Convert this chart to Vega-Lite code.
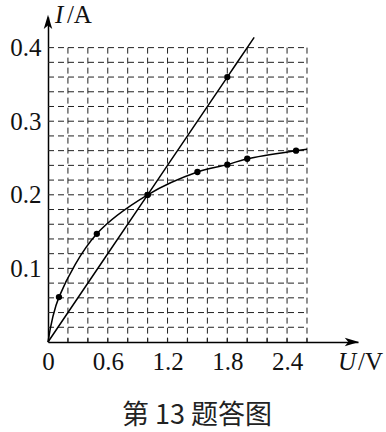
{
  "$schema": "https://vega.github.io/schema/vega-lite/v6.json",
  "width": 310,
  "height": 325,
  "autosize": "none",
  "padding": {"left": 48, "top": 17, "right": 28, "bottom": 90},
  "background": "white",
  "config": {"view": {"stroke": null}, "font": "Liberation Serif"},
  "title": {
    "text": "第 13 题答图",
    "orient": "bottom",
    "anchor": "middle",
    "frame": "group",
    "font": "Noto Sans CJK SC",
    "fontSize": 27,
    "fontWeight": "normal",
    "color": "#222",
    "offset": 28,
    "dx": -6
  },
  "data": {
    "values": [
      {"s": "R", "u": 0, "i": 0, "dot": false},
      {"s": "R", "u": 1.0, "i": 0.2, "dot": true},
      {"s": "R", "u": 1.8, "i": 0.36, "dot": true},
      {"s": "R", "u": 2.07, "i": 0.414, "dot": false},
      {"s": "L", "u": 0, "i": 0, "dot": false},
      {"s": "L", "u": 0.11, "i": 0.061, "dot": true},
      {"s": "L", "u": 0.49, "i": 0.147, "dot": true},
      {"s": "L", "u": 1.0, "i": 0.2, "dot": true},
      {"s": "L", "u": 1.5, "i": 0.231, "dot": true},
      {"s": "L", "u": 1.8, "i": 0.241, "dot": true},
      {"s": "L", "u": 2.0, "i": 0.249, "dot": true},
      {"s": "L", "u": 2.49, "i": 0.26, "dot": true},
      {"s": "L", "u": 2.6, "i": 0.262, "dot": false}
    ]
  },
  "layer": [
    {
      "data": {"values": [{"u": 0.2}, {"u": 0.4}, {"u": 0.6}, {"u": 0.8}, {"u": 1.0}, {"u": 1.2}, {"u": 1.4}, {"u": 1.6}, {"u": 1.8}, {"u": 2.0}, {"u": 2.2}, {"u": 2.4}, {"u": 2.6}]},
      "layer": [
        {
          "mark": {"type": "rule", "color": "#222", "strokeWidth": 1, "strokeDash": [6, 4]},
          "encoding": {
            "x": {"field": "u", "type": "quantitative", "scale": {"domain": [0, 3.112], "nice": false}},
            "y": {"datum": 0.4, "scale": {"domain": [0, 0.4416], "nice": false}},
            "y2": {"datum": 0}
          }
        },
        {
          "mark": {"type": "rule", "color": "#222", "strokeWidth": 1.2},
          "encoding": {
            "x": {"field": "u", "type": "quantitative"},
            "y": {"datum": 0},
            "y2": {"datum": 0.005}
          }
        }
      ]
    },
    {
      "data": {"values": [{"i": 0.02}, {"i": 0.04}, {"i": 0.06}, {"i": 0.08}, {"i": 0.1}, {"i": 0.12}, {"i": 0.14}, {"i": 0.16}, {"i": 0.18}, {"i": 0.2}, {"i": 0.22}, {"i": 0.24}, {"i": 0.26}, {"i": 0.28}, {"i": 0.3}, {"i": 0.32}, {"i": 0.34}, {"i": 0.36}, {"i": 0.38}, {"i": 0.4}]},
      "mark": {"type": "rule", "color": "#222", "strokeWidth": 1, "strokeDash": [6, 4]},
      "encoding": {
        "y": {"field": "i", "type": "quantitative"},
        "x": {"datum": 0},
        "x2": {"datum": 2.6}
      }
    },
    {
      "mark": {"type": "line", "interpolate": "catmull-rom", "color": "black", "strokeWidth": 1.5},
      "encoding": {
        "x": {
          "field": "u", "type": "quantitative",
          "axis": {
            "values": [0, 0.6, 1.2, 1.8, 2.4], "format": "~g", "ticks": false, "grid": false,
            "domainColor": "black", "domainWidth": 1.5, "labelFont": "Liberation Serif",
            "labelFontSize": 25, "labelColor": "#111", "labelPadding": 7, "labelBaseline": "top",
            "labelFlush": false, "labelOverlap": false, "title": null
          }
        },
        "y": {
          "field": "i", "type": "quantitative",
          "axis": {
            "values": [0.1, 0.2, 0.3, 0.4], "format": "~g", "ticks": false, "grid": false,
            "domainColor": "black", "domainWidth": 1.5, "labelFont": "Liberation Serif",
            "labelFontSize": 25, "labelColor": "#111", "labelPadding": 7, "labelBaseline": "middle",
            "labelFlush": false, "labelOverlap": false, "title": null
          }
        },
        "detail": {"field": "s"}
      }
    },
    {
      "transform": [{"filter": "datum.dot"}],
      "mark": {"type": "circle", "color": "black", "size": 40, "opacity": 1},
      "encoding": {
        "x": {"field": "u", "type": "quantitative"},
        "y": {"field": "i", "type": "quantitative"}
      }
    },
    {
      "data": {"values": [{}]},
      "layer": [
        {
          "mark": {"type": "point", "shape": "M1,0L-1,-0.6L-0.5,0L-1,0.6Z", "size": 200, "filled": true, "color": "black", "opacity": 1, "strokeWidth": 0},
          "encoding": {"x": {"datum": 3.05}, "y": {"datum": 0}}
        },
        {
          "mark": {"type": "point", "shape": "M0,-1L-0.6,1L0,0.5L0.6,1Z", "size": 200, "filled": true, "color": "black", "opacity": 1, "strokeWidth": 0},
          "encoding": {"x": {"datum": 0}, "y": {"datum": 0.435}}
        },
        {
          "mark": {"type": "text", "text": "I", "font": "Liberation Serif", "fontStyle": "italic", "fontSize": 25, "align": "left", "baseline": "alphabetic", "color": "#111"},
          "encoding": {"x": {"datum": 0.07}, "y": {"datum": 0.4334}}
        },
        {
          "mark": {"type": "text", "text": "/A", "font": "Liberation Serif", "fontSize": 25, "align": "left", "baseline": "alphabetic", "color": "#111"},
          "encoding": {"x": {"datum": 0.19}, "y": {"datum": 0.4334}}
        },
        {
          "mark": {"type": "text", "text": "U", "font": "Liberation Serif", "fontStyle": "italic", "fontSize": 25, "align": "left", "baseline": "alphabetic", "color": "#111"},
          "encoding": {"x": {"datum": 2.912}, "y": {"datum": -0.038}}
        },
        {
          "mark": {"type": "text", "text": "/V", "font": "Liberation Serif", "fontSize": 25, "align": "left", "baseline": "alphabetic", "color": "#111"},
          "encoding": {"x": {"datum": 3.112}, "y": {"datum": -0.038}}
        }
      ]
    }
  ]
}
